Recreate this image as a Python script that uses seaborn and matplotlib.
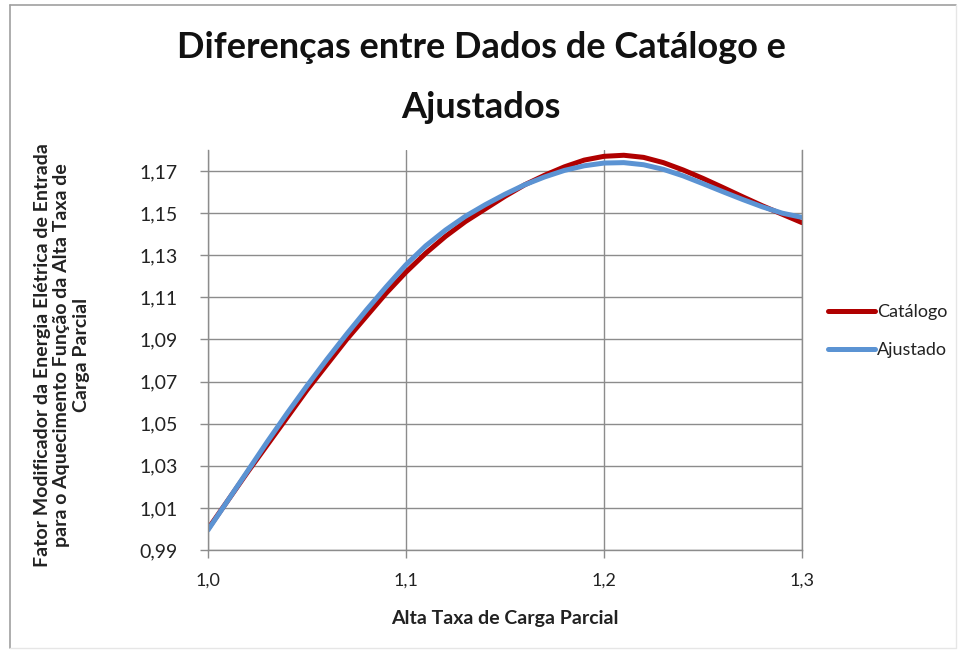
import numpy as np
import pandas as pd
import matplotlib
matplotlib.use("Agg")
import matplotlib.pyplot as plt
import seaborn as sns
from matplotlib.lines import Line2D

sns.set_theme(style="white")
plt.rcParams["font.family"] = ["Lato", "DejaVu Sans"]

# ── Data ─────────────────────────────────────────────────────────────
x_vals = [1.00, 1.01, 1.02, 1.03, 1.04, 1.05, 1.06, 1.07, 1.08, 1.09,
          1.10, 1.11, 1.12, 1.13, 1.14, 1.15, 1.16, 1.17, 1.18, 1.19,
          1.20, 1.21, 1.22, 1.23, 1.24, 1.25, 1.26, 1.27, 1.28, 1.29, 1.30]
catalogo = [1.0000, 1.0135, 1.0270, 1.0400, 1.0530, 1.0660, 1.0780, 1.0900, 1.1010, 1.1120,
            1.1220, 1.1310, 1.1390, 1.1460, 1.1520, 1.1580, 1.1635, 1.1680, 1.1720, 1.1752,
            1.1770, 1.1775, 1.1765, 1.1740, 1.1705, 1.1665, 1.1622, 1.1578, 1.1535, 1.1495, 1.1455]
ajustado = [0.9995, 1.0135, 1.0275, 1.0415, 1.0550, 1.0680, 1.0805, 1.0925, 1.1040, 1.1150,
            1.1255, 1.1345, 1.1420, 1.1485, 1.1540, 1.1590, 1.1635, 1.1672, 1.1703, 1.1725,
            1.1738, 1.1740, 1.1730, 1.1708, 1.1677, 1.1640, 1.1602, 1.1565, 1.1530, 1.1500, 1.1480]

series_names = ["Catálogo", "Ajustado"]
colors = {"Catálogo": "#B00000", "Ajustado": "#5B93D3"}
y_ticks = [0.99, 1.01, 1.03, 1.05, 1.07, 1.09, 1.11, 1.13, 1.15, 1.17]
x_ticks = [1.0, 1.1, 1.2, 1.3]

df = pd.DataFrame({"x": x_vals * 2,
                   "y": catalogo + ajustado,
                   "serie": [series_names[0]] * len(x_vals) + [series_names[1]] * len(x_vals)})

fig = plt.figure(figsize=(9.59, 6.51), dpi=100)
ax = fig.add_axes([208 / 959, 1 - 550 / 651, (802 - 208) / 959, (550 - 150) / 651])

sns.lineplot(data=df, x="x", y="y", hue="serie", palette=colors, ax=ax,
             linewidth=3.6, legend=False, solid_capstyle="round",
             solid_joinstyle="round")

grid_c = "#8C8C8C"
text_c = "#222222"
ax.set_xlim(1.0, 1.3)
ax.set_ylim(0.99, 1.18)
ax.set_xticks(x_ticks)
ax.set_yticks(y_ticks)
ax.set_xticklabels([f"{v:.1f}".replace(".", ",") for v in x_ticks], fontsize=13)
ax.set_yticklabels([f"{v:.2f}".replace(".", ",") for v in y_ticks], fontsize=14)
ax.grid(True, color=grid_c, linewidth=1)
ax.set_axisbelow(True)
ax.tick_params(axis="both", direction="out", length=6, width=1, color=grid_c,
               left=True, bottom=True, labelcolor=text_c)
ax.tick_params(axis="x", pad=10)
ax.tick_params(axis="y", pad=16)
ax.spines["top"].set_visible(False)
for side in ["left", "bottom", "right"]:
    ax.spines[side].set_color(grid_c)
    ax.spines[side].set_linewidth(1)

ax.set_xlabel("Alta Taxa de Carga Parcial", fontsize=14, fontweight="bold",
              labelpad=16, color=text_c)
ax.set_ylabel("")
fig.text(62 / 959, 1 - 355 / 651,
         "Fator Modificador da Energia Elétrica de Entrada\npara o Aquecimento Função da Alta Taxa de\nCarga Parcial",
         rotation=90, ha="center", va="center", fontsize=14, fontweight="bold",
         color=text_c, linespacing=1.2)

fig.text(481 / 959, 1 - 47 / 651, "Diferenças entre Dados de Catálogo e",
         ha="center", va="center", fontsize=26, fontweight="bold", color="#111111")
fig.text(481 / 959, 1 - 107 / 651, "Ajustados",
         ha="center", va="center", fontsize=26, fontweight="bold", color="#111111")

handles = [Line2D([], [], color=colors[n], linewidth=3.6, solid_capstyle="round")
           for n in series_names]
fig.legend(handles, series_names, loc="center left",
           bbox_to_anchor=(812 / 959, 1 - 331 / 651), frameon=False,
           fontsize=13, handlelength=2.6, handletextpad=0.1, labelspacing=1.2,
           labelcolor=text_c)

# chart border
fig.add_artist(Line2D([10 / 959, 10 / 959], [1 - 648 / 651, 1 - 5 / 651],
                      transform=fig.transFigure, color="#A0A0A0", linewidth=1.2))
fig.add_artist(Line2D([10 / 959, 956 / 959], [1 - 5 / 651, 1 - 5 / 651],
                      transform=fig.transFigure, color="#A0A0A0", linewidth=1.2))
fig.add_artist(Line2D([956 / 959, 956 / 959, 10 / 959], [1 - 5 / 651, 1 - 648 / 651, 1 - 648 / 651],
                      transform=fig.transFigure, color="#E6E6E6", linewidth=1))

fig.savefig("out.png", dpi=100)
